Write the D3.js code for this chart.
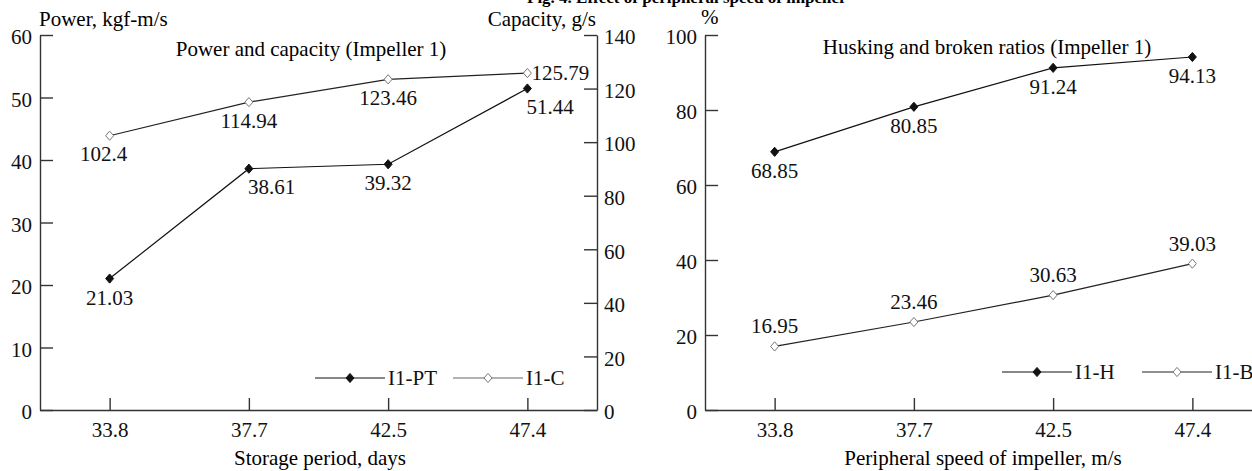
<!DOCTYPE html>
<html>
<head>
<meta charset="utf-8">
<script src="https://cdn.jsdelivr.net/npm/d3@7"></script>
<style>
  html, body { margin: 0; padding: 0; background: #fff; }
  svg { display: block; font-family: "Liberation Serif", "Times New Roman", serif; }
  svg text { font-family: "Liberation Serif", "Times New Roman", serif; }
</style>
</head>
<body>
<svg id="chart" width="1252" height="471"></svg>
<script>
// Peripheral speed categories (shared by both panels)
const categories = ["33.8", "37.7", "42.5", "47.4"];

// Panel 1: power (left axis) and capacity (right axis)
const powerPT = [21.03, 38.61, 39.32, 51.44];
const capacityC = [102.4, 114.94, 123.46, 125.79];

// Panel 2: husking and broken ratios, %
const huskingH = [68.85, 80.85, 91.24, 94.13];
const brokenB = [16.95, 23.46, 30.63, 39.03];

// Axis tick values
const powerTicks = [0, 10, 20, 30, 40, 50, 60];
const capacityTicks = [0, 20, 40, 60, 80, 100, 120, 140];
const percentTicks = [0, 20, 40, 60, 80, 100];

// Value label placement for each point (layout only)
const placePT = ["below", "belowStart", "below", "belowStart"];
const placeC  = ["belowLeft", "below", "below", "right"];
const placeH  = ["below", "below", "below", "below"];
const placeB  = ["above", "above", "above", "above"];

const svg = d3.select("#chart");
const FS = 21;
const plotTop = 35, plotBottom = 410;

// Figure caption, running off the top edge
svg.append("text")
  .attr("x", 527).attr("y", 3)
  .attr("font-size", 17).attr("font-weight", "bold")
  .text("Fig. 4. Effect of peripheral speed of impeller");

function diamond(sel, filled) {
  sel.attr("d", "M0,-4.6L4,0L0,4.6L-4,0Z")
    .attr("fill", filled ? "#111" : "#fff")
    .attr("stroke", filled ? "#111" : "#777")
    .attr("stroke-width", 1);
}

function styleAxis(g) {
  g.attr("font-family", null);
  g.selectAll(".domain").attr("stroke", "#333").attr("stroke-width", 1.4);
  g.selectAll(".tick line").attr("stroke", "#333").attr("stroke-width", 1.4);
  g.selectAll("text").attr("font-size", FS).attr("fill", "#111");
}

function drawSeries(x, y, values, filled, lineColor, places) {
  const line = d3.line().x((d, i) => x(categories[i])).y(d => y(d));
  svg.append("path").datum(values)
    .attr("d", line).attr("fill", "none")
    .attr("stroke", lineColor).attr("stroke-width", 1.2);
  svg.selectAll(null).data(values).enter().append("path")
    .attr("transform", (d, i) => `translate(${x(categories[i])},${y(d)})`)
    .call(diamond, filled);
  svg.selectAll(null).data(values).enter().append("text")
    .attr("font-size", FS).attr("fill", "#111")
    .each(function (d, i) {
      const px = x(categories[i]), py = y(d), p = places[i];
      const t = d3.select(this).text(d);
      if (p === "below") t.attr("x", px).attr("y", py + 26).attr("text-anchor", "middle");
      else if (p === "belowLeft") t.attr("x", px - 6).attr("y", py + 25).attr("text-anchor", "middle");
      else if (p === "belowStart") t.attr("x", px - 1).attr("y", py + 25).attr("text-anchor", "start");
      else if (p === "above") t.attr("x", px).attr("y", py - 13).attr("text-anchor", "middle");
      else if (p === "right") t.attr("x", px + 4).attr("y", py + 7).attr("text-anchor", "start");
    });
}

function legendItem(x0, yy, filled, lineColor, label) {
  svg.append("line").attr("x1", x0).attr("x2", x0 + 70).attr("y1", yy).attr("y2", yy)
    .attr("stroke", lineColor).attr("stroke-width", 1.2);
  svg.append("path").attr("transform", `translate(${x0 + 35},${yy})`).call(diamond, filled);
  svg.append("text").attr("x", x0 + 73).attr("y", yy + 7)
    .attr("font-size", FS).attr("fill", "#111").text(label);
}

// ---------- Panel 1 ----------
const x1 = d3.scalePoint().domain(categories).range([40, 597]).padding(0.5);
const yPow = d3.scaleLinear().domain([0, 60]).range([plotBottom, plotTop]);
const yCap = d3.scaleLinear().domain([0, 140]).range([plotBottom, plotTop]);

svg.append("g").attr("transform", `translate(0,${plotBottom})`)
  .call(d3.axisBottom(x1).tickSize(-12).tickSizeOuter(0).tickPadding(12))
  .call(styleAxis);
svg.append("g").attr("transform", "translate(40,0)")
  .call(d3.axisLeft(yPow).tickValues(powerTicks).tickSize(-13).tickSizeOuter(0).tickPadding(8))
  .call(styleAxis)
  .selectAll("text").attr("dy", "0.42em");
svg.append("g").attr("transform", "translate(597,0)")
  .call(d3.axisRight(yCap).tickValues(capacityTicks).tickSize(-13).tickSizeOuter(0).tickPadding(7))
  .call(styleAxis)
  .selectAll("text").attr("dy", "0.42em");

svg.append("text").attr("x", 39).attr("y", 26).attr("font-size", FS).text("Power, kgf-m/s");
svg.append("text").attr("x", 596).attr("y", 26).attr("font-size", FS)
  .attr("text-anchor", "end").text("Capacity, g/s");
svg.append("text").attr("x", 311).attr("y", 56).attr("font-size", FS)
  .attr("text-anchor", "middle").text("Power and capacity (Impeller 1)");
svg.append("text").attr("x", 320).attr("y", 465).attr("font-size", FS)
  .attr("text-anchor", "middle").text("Storage period, days");

drawSeries(x1, yCap, capacityC, false, "#222", placeC);
drawSeries(x1, yPow, powerPT, true, "#111", placePT);
legendItem(315, 378, true, "#111", "I1-PT");
legendItem(453, 378, false, "#666", "I1-C");

// ---------- Panel 2 ----------
const x2 = d3.scalePoint().domain(categories).range([705, 1262]).padding(0.5);
const yPct = d3.scaleLinear().domain([0, 100]).range([plotBottom, plotTop]);

svg.append("g").attr("transform", `translate(0,${plotBottom})`)
  .call(d3.axisBottom(x2).tickSize(-12).tickSizeOuter(0).tickPadding(12))
  .call(styleAxis);
svg.append("g").attr("transform", "translate(705,0)")
  .call(d3.axisLeft(yPct).tickValues(percentTicks).tickSize(-13).tickSizeOuter(0).tickPadding(8))
  .call(styleAxis)
  .selectAll("text").attr("dy", "0.42em");

svg.append("text").attr("x", 701).attr("y", 24).attr("font-size", FS).text("%");
svg.append("text").attr("x", 987).attr("y", 54).attr("font-size", FS)
  .attr("text-anchor", "middle").text("Husking and broken ratios (Impeller 1)");
svg.append("text").attr("x", 983).attr("y", 465).attr("font-size", FS)
  .attr("text-anchor", "middle").text("Peripheral speed of impeller, m/s");

drawSeries(x2, yPct, huskingH, true, "#111", placeH);
drawSeries(x2, yPct, brokenB, false, "#222", placeB);
legendItem(1002, 372, true, "#111", "I1-H");
legendItem(1142, 372, false, "#222", "I1-B");
</script>
</body>
</html>
